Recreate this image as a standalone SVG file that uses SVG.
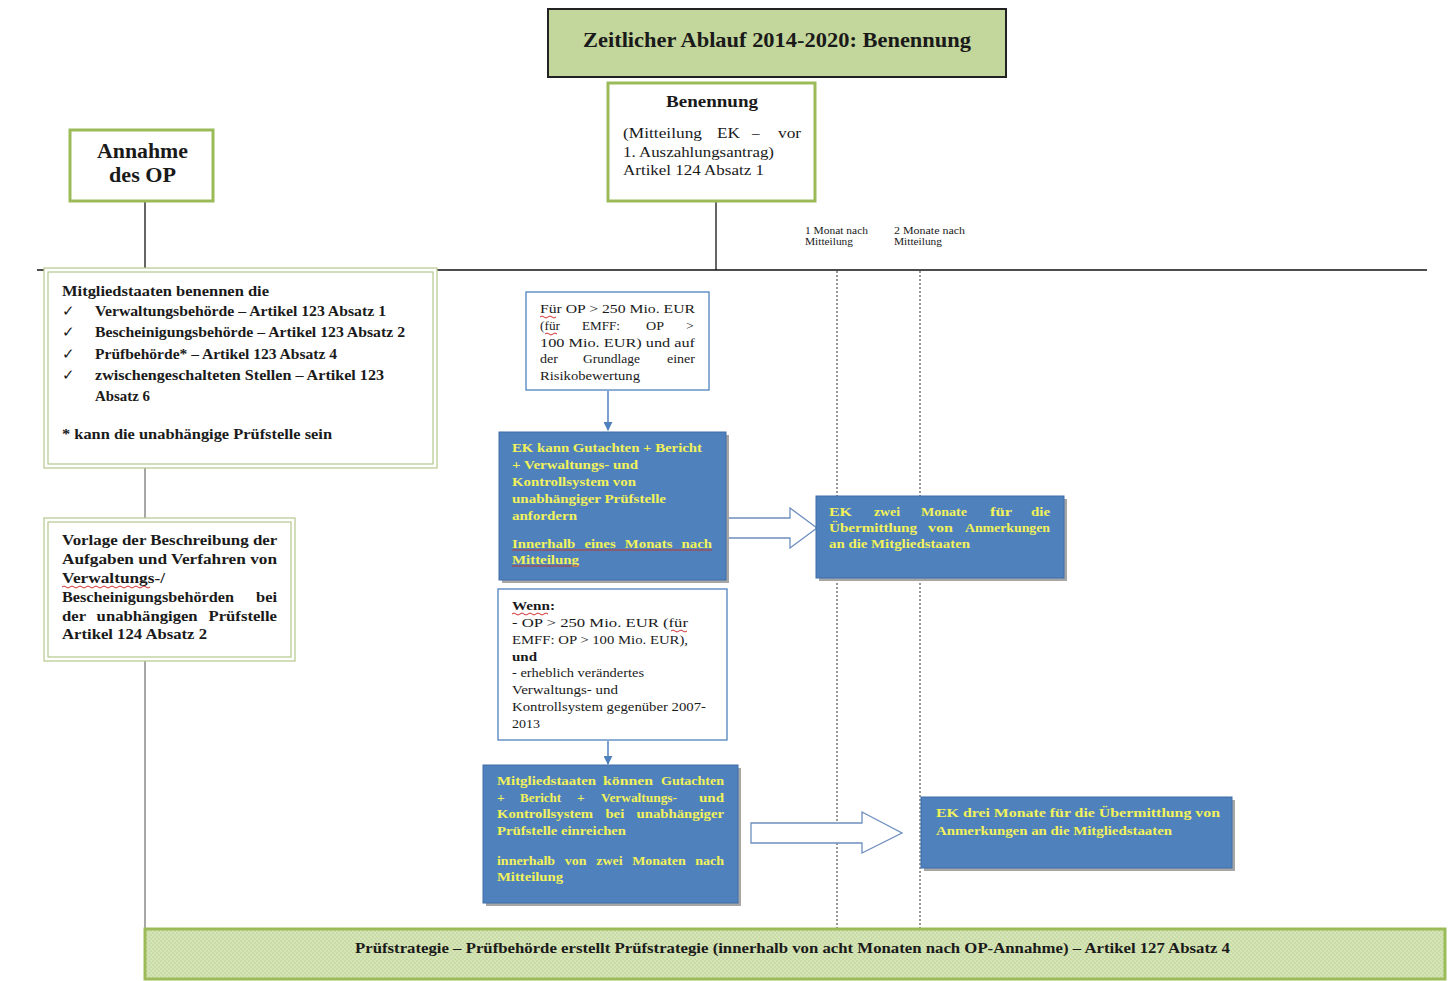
<svg xmlns="http://www.w3.org/2000/svg" width="1454" height="981" viewBox="0 0 1454 981">
<defs>
<style>
.t{font-family:"Liberation Serif","Times New Roman",serif;fill:#1a1a1a}
.b{font-weight:bold}
.y{font-family:"Liberation Serif","Times New Roman",serif;font-weight:bold;fill:#f2f25a;font-size:13.5px}
.gbox{fill:#fff;stroke:#9bbb59;stroke-width:3}
.dbl{fill:#fff;stroke:#b5c98c;stroke-width:1.2}
.wbox{fill:#fff;stroke:#4f81bd;stroke-width:1.3}
.blue{fill:#4f81bd;stroke:#3f6ea8;stroke-width:1}
.shadow{fill:#a6a6a6}
.blk{fill:#fff;stroke:#6d8fbf;stroke-width:1.3}
.dot{stroke:#555;stroke-width:1.2;stroke-dasharray:2 2;fill:none}
.ln{stroke:#333;stroke-width:1.5;fill:none}
.gl{stroke:#8a8a8a;stroke-width:1.5;fill:none}
.sq{stroke:#d03030;stroke-width:1;fill:none}
</style>
<pattern id="pg" width="4" height="4" patternUnits="userSpaceOnUse">
<rect width="4" height="4" fill="#d6e5b8"/>
<circle cx="1" cy="1" r="0.8" fill="#b9cf8f"/>
<circle cx="3" cy="3" r="0.8" fill="#b9cf8f"/>
</pattern>
<marker id="ah" viewBox="0 0 10 10" refX="9" refY="5" markerWidth="9" markerHeight="9" markerUnits="userSpaceOnUse" orient="auto">
<path d="M0,0 L10,5 L0,10 z" fill="#4f81bd"/>
</marker>
</defs>

<g id="connectors">
<line class="ln" x1="145" y1="201" x2="145" y2="270"/>
<line class="ln" x1="716" y1="201" x2="716" y2="270"/>
<line x1="37" y1="270" x2="1427" y2="270" stroke="#111" stroke-width="1.5"/>
<line class="gl" x1="145" y1="467" x2="145" y2="519"/>
<line class="gl" x1="145" y1="660" x2="145" y2="930"/>
<line class="dot" x1="837" y1="271" x2="837" y2="930"/>
<line class="dot" x1="920" y1="271" x2="920" y2="930"/>
<line x1="608" y1="391" x2="608" y2="430" stroke="#4f81bd" stroke-width="1.5" marker-end="url(#ah)"/>
<line x1="608" y1="741" x2="608" y2="764" stroke="#4f81bd" stroke-width="1.5" marker-end="url(#ah)"/>
<path class="blk" d="M710,518 L790,518 L790,508 L817,528 L790,548 L790,538 L710,538 Z"/>
<path class="blk" d="M751,823 L862,823 L862,812 L902,833 L862,853 L862,843 L751,843 Z"/>
</g>

<g id="title">
<rect x="548" y="9" width="458" height="68" fill="#c3d69b" stroke="#222" stroke-width="2"/>
<text class="t b" x="583" y="47" font-size="21" textLength="388" lengthAdjust="spacingAndGlyphs">Zeitlicher Ablauf 2014-2020: Benennung</text>
</g>

<g id="benennung">
<rect class="gbox" x="608" y="83" width="207" height="118"/>
<text class="t b" x="666" y="107" font-size="17" textLength="92" lengthAdjust="spacingAndGlyphs">Benennung</text>
<text class="t" font-size="15">
<tspan x="623" y="138" textLength="79" lengthAdjust="spacingAndGlyphs">(Mitteilung</tspan><tspan x="717" y="138" textLength="23" lengthAdjust="spacingAndGlyphs">EK</tspan><tspan x="752" y="138">–</tspan><tspan x="778" y="138" textLength="23" lengthAdjust="spacingAndGlyphs">vor</tspan>
<tspan x="623" y="157" textLength="151" lengthAdjust="spacingAndGlyphs">1. Auszahlungsantrag)</tspan>
<tspan x="623" y="175" textLength="141" lengthAdjust="spacingAndGlyphs">Artikel 124 Absatz 1</tspan>
</text>
</g>

<g id="annahme">
<rect class="gbox" x="70" y="130" width="143" height="71"/>
<text class="t b" font-size="20"><tspan x="97" y="158" textLength="91" lengthAdjust="spacingAndGlyphs">Annahme</tspan><tspan x="109" y="182" textLength="67" lengthAdjust="spacingAndGlyphs">des OP</tspan></text>
</g>

<g id="labels">
<text class="t" font-size="10"><tspan x="805" y="234" textLength="63" lengthAdjust="spacingAndGlyphs">1 Monat nach</tspan><tspan x="805" y="245" textLength="48" lengthAdjust="spacingAndGlyphs">Mitteilung</tspan></text>
<text class="t" font-size="10"><tspan x="894" y="234" textLength="71" lengthAdjust="spacingAndGlyphs">2 Monate nach</tspan><tspan x="894" y="245" textLength="48" lengthAdjust="spacingAndGlyphs">Mitteilung</tspan></text>
</g>

<g id="mitgliedstaaten">
<rect class="dbl" x="44" y="268" width="393" height="200"/>
<rect class="dbl" x="48" y="272" width="385" height="192"/>
<text class="t b" font-size="14.5">
<tspan x="62" y="296" textLength="207" lengthAdjust="spacingAndGlyphs">Mitgliedstaaten benennen die</tspan>
<tspan x="62" y="316" font-weight="normal">✓</tspan><tspan x="95" y="316" textLength="291" lengthAdjust="spacingAndGlyphs">Verwaltungsbehörde – Artikel 123 Absatz 1</tspan>
<tspan x="62" y="337" font-weight="normal">✓</tspan><tspan x="95" y="337" textLength="310" lengthAdjust="spacingAndGlyphs">Bescheinigungsbehörde  – Artikel 123 Absatz 2</tspan>
<tspan x="62" y="359" font-weight="normal">✓</tspan><tspan x="95" y="359" textLength="242" lengthAdjust="spacingAndGlyphs">Prüfbehörde* – Artikel 123 Absatz 4</tspan>
<tspan x="62" y="380" font-weight="normal">✓</tspan><tspan x="95" y="380" textLength="289" lengthAdjust="spacingAndGlyphs">zwischengeschalteten Stellen – Artikel 123</tspan>
<tspan x="95" y="401" textLength="55" lengthAdjust="spacingAndGlyphs">Absatz 6</tspan>
<tspan x="62" y="439" textLength="270" lengthAdjust="spacingAndGlyphs">* kann die unabhängige Prüfstelle sein</tspan>
</text>
</g>

<g id="vorlage">
<rect class="dbl" x="44" y="518" width="251" height="143"/>
<rect class="dbl" x="48" y="522" width="243" height="135"/>
<text class="t b" font-size="15">
<tspan x="62" y="545" textLength="215" lengthAdjust="spacingAndGlyphs">Vorlage der Beschreibung der</tspan>
<tspan x="62" y="564" textLength="215" lengthAdjust="spacingAndGlyphs">Aufgaben und Verfahren von</tspan>
<tspan x="62" y="583" textLength="103" lengthAdjust="spacingAndGlyphs">Verwaltungs-/</tspan>
<tspan x="62" y="602" textLength="172" lengthAdjust="spacingAndGlyphs">Bescheinigungsbehörden</tspan><tspan x="256" y="602" textLength="21" lengthAdjust="spacingAndGlyphs">bei</tspan>
<tspan x="62" y="621" textLength="215" lengthAdjust="spacingAndGlyphs" word-spacing="6">der unabhängigen Prüfstelle</tspan>
<tspan x="62" y="639" textLength="145" lengthAdjust="spacingAndGlyphs">Artikel 124 Absatz 2</tspan>
</text>
<path class="sq" d="M62,587 q2,-2 4,0 t4,0 t4,0 t4,0 t4,0 t4,0 t4,0 t4,0 t4,0 t4,0 t4,0 t4,0 t4,0 t4,0 t4,0 t4,0 t4,0 t4,0 t4,0 t4,0 t4,0 t4,0"/>
</g>

<g id="fuer-op">
<rect class="wbox" x="526" y="292" width="183" height="98"/>
<text class="t" font-size="13.5">
<tspan x="540" y="313" textLength="155" lengthAdjust="spacingAndGlyphs">Für OP &gt; 250 Mio. EUR</tspan>
<tspan x="540" y="330" textLength="20" lengthAdjust="spacingAndGlyphs">(für</tspan><tspan x="582" y="330" textLength="38" lengthAdjust="spacingAndGlyphs">EMFF:</tspan><tspan x="646" y="330" textLength="18" lengthAdjust="spacingAndGlyphs">OP</tspan><tspan x="686" y="330">&gt;</tspan>
<tspan x="540" y="347" textLength="155" lengthAdjust="spacingAndGlyphs">100 Mio. EUR) und auf</tspan>
<tspan x="540" y="363" textLength="18" lengthAdjust="spacingAndGlyphs">der</tspan><tspan x="583" y="363" textLength="57" lengthAdjust="spacingAndGlyphs">Grundlage</tspan><tspan x="667" y="363" textLength="28" lengthAdjust="spacingAndGlyphs">einer</tspan>
<tspan x="540" y="380" textLength="100" lengthAdjust="spacingAndGlyphs">Risikobewertung</tspan>
</text>
<path class="sq" d="M540,317 q2,-2 4,0 t4,0 t4,0 t4,0"/>
<path class="sq" d="M545,334 q2,-2 4,0 t4,0 t4,0"/>
</g>

<g id="ek-kann">
<rect class="shadow" x="502" y="435" width="227" height="148"/>
<rect class="blue" x="499" y="432" width="227" height="148"/>
<text class="y">
<tspan x="512" y="452" textLength="190" lengthAdjust="spacingAndGlyphs">EK kann Gutachten + Bericht</tspan>
<tspan x="512" y="469" textLength="126" lengthAdjust="spacingAndGlyphs">+ Verwaltungs- und</tspan>
<tspan x="512" y="486" textLength="124" lengthAdjust="spacingAndGlyphs">Kontrollsystem von</tspan>
<tspan x="512" y="503" textLength="154" lengthAdjust="spacingAndGlyphs">unabhängiger Prüfstelle</tspan>
<tspan x="512" y="520" textLength="65" lengthAdjust="spacingAndGlyphs">anfordern</tspan>
<tspan x="512" y="548" textLength="200" lengthAdjust="spacingAndGlyphs" word-spacing="5">Innerhalb eines Monats nach</tspan>
<tspan x="512" y="564" textLength="67" lengthAdjust="spacingAndGlyphs">Mitteilung</tspan>
</text>
<line x1="512" y1="550" x2="712" y2="550" stroke="#c0392b" stroke-width="1"/>
<line x1="512" y1="566" x2="579" y2="566" stroke="#c0392b" stroke-width="1"/>
</g>

<g id="ek-zwei">
<rect class="shadow" x="819" y="499" width="248" height="82"/>
<rect class="blue" x="816" y="496" width="248" height="82"/>
<text class="y">
<tspan x="829" y="516" textLength="23" lengthAdjust="spacingAndGlyphs">EK</tspan><tspan x="874" y="516" textLength="26" lengthAdjust="spacingAndGlyphs">zwei</tspan><tspan x="921" y="516" textLength="46" lengthAdjust="spacingAndGlyphs">Monate</tspan><tspan x="990" y="516" textLength="22" lengthAdjust="spacingAndGlyphs">für</tspan><tspan x="1031" y="516" textLength="19" lengthAdjust="spacingAndGlyphs">die</tspan>
<tspan x="829" y="532" textLength="88" lengthAdjust="spacingAndGlyphs">Übermittlung</tspan><tspan x="928" y="532" textLength="25" lengthAdjust="spacingAndGlyphs">von</tspan><tspan x="965" y="532" textLength="85" lengthAdjust="spacingAndGlyphs">Anmerkungen</tspan>
<tspan x="829" y="548" textLength="141" lengthAdjust="spacingAndGlyphs">an die Mitgliedstaaten</tspan>
</text>
</g>

<g id="wenn">
<rect class="wbox" x="498" y="589" width="229" height="151"/>
<text class="t" font-size="13.5">
<tspan x="512" y="610" font-weight="bold" textLength="43" lengthAdjust="spacingAndGlyphs">Wenn:</tspan>
<tspan x="512" y="627" textLength="176" lengthAdjust="spacingAndGlyphs">- OP &gt; 250 Mio. EUR (für</tspan>
<tspan x="512" y="644" textLength="176" lengthAdjust="spacingAndGlyphs">EMFF: OP &gt; 100 Mio. EUR),</tspan>
<tspan x="512" y="661" font-weight="bold" textLength="25" lengthAdjust="spacingAndGlyphs">und</tspan>
<tspan x="512" y="677" textLength="132" lengthAdjust="spacingAndGlyphs">- erheblich verändertes</tspan>
<tspan x="512" y="694" textLength="106" lengthAdjust="spacingAndGlyphs">Verwaltungs- und</tspan>
<tspan x="512" y="711" textLength="194" lengthAdjust="spacingAndGlyphs">Kontrollsystem gegenüber 2007-</tspan>
<tspan x="512" y="728" textLength="28" lengthAdjust="spacingAndGlyphs">2013</tspan>
</text>
<path class="sq" d="M512,614 q2,-2 4,0 t4,0 t4,0 t4,0 t4,0 t4,0 t4,0 t4,0 t4,0"/>
<path class="sq" d="M671,631 q2,-2 4,0 t4,0 t4,0 t4,0"/>
</g>

<g id="mitgliedstaaten-koennen">
<rect class="shadow" x="486" y="768" width="255" height="138"/>
<rect class="blue" x="483" y="765" width="255" height="138"/>
<text class="y">
<tspan x="497" y="785" textLength="99" lengthAdjust="spacingAndGlyphs">Mitgliedstaaten</tspan><tspan x="603" y="785" textLength="50" lengthAdjust="spacingAndGlyphs">können</tspan><tspan x="661" y="785" textLength="63" lengthAdjust="spacingAndGlyphs">Gutachten</tspan>
<tspan x="497" y="802">+</tspan><tspan x="520" y="802" textLength="41" lengthAdjust="spacingAndGlyphs">Bericht</tspan><tspan x="577" y="802">+</tspan><tspan x="601" y="802" textLength="76" lengthAdjust="spacingAndGlyphs">Verwaltungs-</tspan><tspan x="699" y="802" textLength="25" lengthAdjust="spacingAndGlyphs">und</tspan>
<tspan x="497" y="818" textLength="227" lengthAdjust="spacingAndGlyphs" word-spacing="8">Kontrollsystem bei unabhängiger</tspan>
<tspan x="497" y="835" textLength="129" lengthAdjust="spacingAndGlyphs">Prüfstelle einreichen</tspan>
<tspan x="497" y="865" textLength="227" lengthAdjust="spacingAndGlyphs" word-spacing="6">innerhalb von zwei Monaten nach</tspan>
<tspan x="497" y="881" textLength="66" lengthAdjust="spacingAndGlyphs">Mitteilung</tspan>
</text>
</g>

<g id="ek-drei">
<rect class="shadow" x="924" y="800" width="311" height="71"/>
<rect class="blue" x="921" y="797" width="311" height="71"/>
<text class="y">
<tspan x="936" y="817" textLength="284" lengthAdjust="spacingAndGlyphs">EK drei Monate für die Übermittlung von</tspan>
<tspan x="936" y="835" textLength="236" lengthAdjust="spacingAndGlyphs">Anmerkungen an die Mitgliedstaaten</tspan>
</text>
</g>

<g id="pruefstrategie">
<rect x="145" y="929" width="1300" height="50" fill="url(#pg)" stroke="#9bbb59" stroke-width="3"/>
<text class="t b" x="355" y="953" font-size="14" textLength="875" lengthAdjust="spacingAndGlyphs">Prüfstrategie – Prüfbehörde erstellt Prüfstrategie (innerhalb von acht Monaten nach OP-Annahme) – Artikel 127 Absatz 4</text>
</g>
</svg>
